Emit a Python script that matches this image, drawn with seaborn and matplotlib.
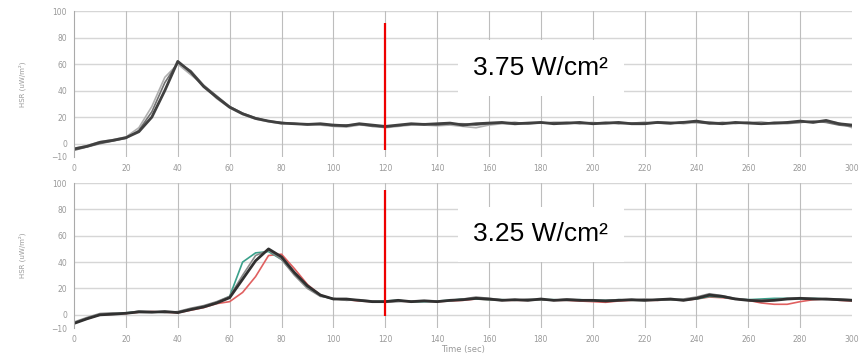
import numpy as np
import pandas as pd
import matplotlib
matplotlib.use('Agg')
import matplotlib.pyplot as plt
import seaborn as sns
sns.set_style('white')
plt.rcParams['font.family'] = ['DejaVu Sans']

# time axis, one reading every 5 s
time = list(range(0, 301, 5))

# 3.75 W/cm2 runs
top_a = [-4, -2, 1, 2.5, 4.5, 9, 20, 40, 62, 54, 43, 35, 27.5, 22.5, 19, 17, 15.5, 15, 14.5, 15,
         14, 13.5, 15, 14, 13, 14, 15, 14.5, 15, 15.5, 14, 15, 15.5, 16, 15, 15.5, 16, 15, 15.5, 16,
         15, 15.5, 16, 15, 15, 16, 15.5, 16, 17, 15.5, 15, 16, 15.5, 15, 15.5, 16, 17, 16, 17.5, 15, 14]
top_b = [-5, -2.5, 0, 2, 4, 10, 24, 46, 61, 55, 44, 36, 28, 23, 19.5, 17, 16, 15, 15, 14.5,
         13.5, 14, 14.5, 13, 12.5, 13.5, 14.5, 15, 14, 15, 15, 14, 15, 15.5, 16, 15, 15.5, 16, 16, 15,
         15.5, 16, 15, 15.5, 16, 15.5, 15, 16.5, 16, 15, 16, 15.5, 16, 15, 16, 15.5, 16, 17, 16, 14, 13]
top_c = [-3.5, -1.5, 1.5, 3, 5, 12, 28, 50, 60, 52, 44, 34, 27, 22, 18.5, 16.5, 15, 15.5, 14, 14,
         13, 12.5, 14, 13.5, 12, 13, 14, 14, 13.5, 14, 13, 12, 14, 15, 14.5, 15, 16, 15.5, 15, 15.5,
         16, 15, 15.5, 15, 15.5, 16.5, 16, 15, 16, 16.5, 15.5, 15, 16, 16.5, 15, 15, 16, 16.5, 17, 15.5, 12]

# 3.25 W/cm2 runs
bot_a = [-6.5, -3, 0, 0.5, 1.2, 2.2, 2, 2.5, 1.7, 4, 6, 9, 13, 27, 41, 50, 44, 32, 22, 15,
         12, 12, 11, 10, 10, 11, 10, 10.5, 10, 11, 11.5, 12.5, 12, 11, 11.5, 11, 12, 11, 11.5, 11,
         11, 10.5, 11, 11.5, 11, 11.5, 12, 11, 12.5, 15, 14, 12, 11, 10.5, 11, 12, 12.5, 12, 12, 11.5, 11]
bot_b = [-5.5, -2, 1, 1.5, 1, 3, 2.5, 1.5, 2.5, 5, 7, 10, 14, 30, 45, 49, 42, 30, 20, 14,
         12.5, 11, 11.5, 10.5, 9.5, 10, 10.5, 11, 10.5, 10.5, 12, 13.5, 12.5, 11.5, 11, 12, 11.5, 11, 12, 11.5,
         10.5, 11, 11.5, 11, 12, 11, 11.5, 12, 13.5, 16, 14.5, 12.5, 11.5, 11, 11.5, 12.5, 13, 12.5, 11.5, 12, 11.5]
bot_green = [-6, -2.5, 0.5, 1, 1.5, 2.5, 2, 2, 2, 4.5, 6.5, 9.5, 14, 40, 47, 48, 42, 31, 21, 14.5,
             12, 11.5, 11, 10, 10.5, 11, 10, 10, 10.5, 11, 12, 12, 11.5, 11.5, 11, 11.5, 11.5, 11.5, 11, 11.5,
             11, 11, 11.5, 11, 11, 11.5, 11.5, 11.5, 12, 14, 13.5, 12, 11.5, 12, 12.5, 12.5, 12, 12.5, 12, 11.5, 11]
bot_red = [-6, -3, 0, 0.5, 1, 2, 2.5, 2, 1.5, 3.5, 5.5, 8.5, 10, 17, 29, 45, 46, 35, 23, 15,
           12, 11.5, 10.5, 10, 10, 10.5, 10, 10.5, 10, 10.5, 11, 12, 11.5, 11, 11, 11, 11.5, 11, 11, 10.5,
           10, 9.5, 10.5, 11, 11, 11, 11.5, 11, 12, 13.5, 13, 12, 11, 9, 8, 8, 10, 11.5, 12, 11, 10.5]

ticks_x = list(range(0, 301, 20))
ticks_y = [-10, 0, 20, 40, 60, 80, 100]
labels = ['3.75 W/cm²', '3.25 W/cm²']

top = pd.DataFrame({'time': time, 'a': top_a, 'b': top_b, 'c': top_c}).melt('time', var_name='run', value_name='hf')
bot = pd.DataFrame({'time': time, 'a': bot_a, 'b': bot_b, 'g': bot_green, 'r': bot_red}).melt('time', var_name='run', value_name='hf')

fig = plt.figure(figsize=(8.68, 3.55), dpi=100)
ax1 = fig.add_axes([0.0853, 0.558, 0.8963, 0.411])
ax2 = fig.add_axes([0.0853, 0.076, 0.8963, 0.4085])

pal_top = {'c': '#b0b0b0', 'b': '#707070', 'a': '#404040'}
pal_bot = {'r': '#e06060', 'g': '#3aa08a', 'b': '#8a8a8a', 'a': '#303030'}

for ax, df, pal, lab, ty in [(ax1, top, pal_top, labels[0], 57), (ax2, bot, pal_bot, labels[1], 61)]:
    for run, col in pal.items():
        sns.lineplot(data=df[df['run'] == run], x='time', y='hf', color=col,
                     linewidth=2.0 if run == 'a' else 1.2, ax=ax, legend=False)
    ax.set_xlim(0, 300)
    ax.set_ylim(-10, 100)
    ax.set_xticks(ticks_x)
    ax.set_yticks(ticks_y)
    ax.set_xticklabels([str(v) for v in ticks_x])
    for v in ticks_y[1:]:
        ax.axhline(v, color='#d6d6d6', lw=1, zorder=0)
    for v in ticks_x[1:-1]:
        ax.axvline(v, color='#bdbdbd', lw=0.8, zorder=0)
    for s in ['top', 'right', 'bottom']:
        ax.spines[s].set_visible(False)
    ax.spines['left'].set_color('#aaaaaa')
    ax.tick_params(axis='both', labelsize=5.5, colors='#999999', length=3, width=0.8, pad=2)
    ax.set_ylabel('HSR (uW/m²)', fontsize=5, color='#999999', labelpad=18)
    ax.set_xlabel('')
    ax.vlines(120, -5 if ax is ax1 else -1, 91 if ax is ax1 else 95, color='#ee0000', lw=1.6, zorder=5)
    ax.text(180, ty, lab, fontsize=19, family='Liberation Sans', color='black', ha='center', va='center',
            bbox=dict(boxstyle='square,pad=0.6', fc='white', ec='none'), zorder=6)

ax2.set_xlabel('Time (sec)', fontsize=6, color='#999999', labelpad=1)

fig.savefig('out.png', dpi=100)
